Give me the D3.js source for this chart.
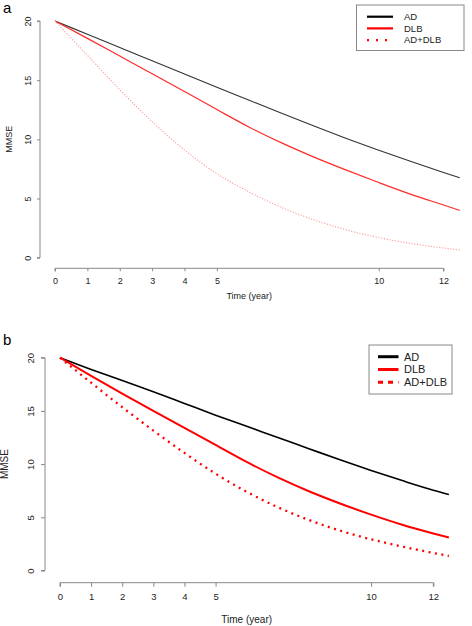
<!DOCTYPE html>
<html><head><meta charset="utf-8">
<script src="https://cdn.jsdelivr.net/npm/d3@7"></script>
<style>body{margin:0;background:#fff}svg{display:block}text{font-family:"Liberation Sans",Arial,sans-serif}</style>
</head><body><svg id="c" width="472" height="626"></svg>
<script>
const timeA = [0,1,2,3,4,5,6,7,8,9,10,11,12,12.5];
const adA     = [20,18.88,17.76,16.65,15.53,14.4,13.3,12.2,11.12,10.08,9.08,8.12,7.2,6.76];
const dlbA    = [20,18.53,17.04,15.55,14.04,12.52,11.03,9.7,8.5,7.4,6.35,5.35,4.45,4.0];
const addlbA  = [20,17.1,14.2,11.5,9.1,7.1,5.55,4.25,3.2,2.35,1.7,1.2,0.82,0.65];

const timeB = [0,1,2,3,4,5,6,7,8,9,10,11,12,12.5];
const adB     = [20,18.9,17.85,16.8,15.7,14.6,13.55,12.5,11.45,10.4,9.4,8.45,7.55,7.15];
const dlbB    = [20,18.3,16.63,15.0,13.4,11.8,10.2,8.75,7.45,6.3,5.25,4.3,3.48,3.1];
const addlbB  = [20,17.65,15.35,13.15,11.05,9.1,7.4,5.95,4.75,3.75,2.93,2.25,1.65,1.37];

const xTicks = [0,1,2,3,4,5,10,12];
const yTicks = [0,5,10,15,20];
const seriesNames = ["AD","DLB","AD+DLB"];
const panelLabels = ["a","b"];

const svg = d3.select("#c");

function panel(o){
  const x = d3.scaleLinear().domain([0,12.5]).range([o.x0,o.x1]);
  const y = d3.scaleLinear().domain([0,20]).range([o.y0,o.y1]);
  const g = svg.append("g");
  g.append("text").attr("x",o.lx).attr("y",o.ly).attr("font-size",15).text(o.label);
  const xa = g.append("g").attr("transform",`translate(0,${o.xaxisY})`)
    .call(d3.axisBottom(x).tickValues(xTicks).tickSize(o.tick).tickPadding(o.xpad).tickFormat(d3.format("d")));
  xa.select(".domain").attr("d",`M${x(0)},${o.tick}V0H${x(12)}V${o.tick}`);
  const ya = g.append("g").attr("transform",`translate(${o.yaxisX},0)`)
    .call(d3.axisLeft(y).tickValues(yTicks).tickSize(o.tick).tickPadding(o.ypad));
  ya.select(".domain").attr("d",`M${-o.tick},${y(0)}H0V${y(20)}H${-o.tick}`);
  ya.selectAll(".tick text").attr("text-anchor","middle").attr("x",0).attr("y",0).attr("dy",0)
    .attr("transform",`translate(${-o.ypad-o.tick},0) rotate(-90)`);
  [xa,ya].forEach(a=>{
    a.selectAll(".domain,.tick line").attr("stroke","#888");
    a.selectAll(".tick text").attr("font-size",o.fs).attr("fill","#222").attr("font-family","Liberation Sans, Arial, sans-serif");
  });
  g.append("text").attr("x",x(6)).attr("y",o.xtitleY).attr("text-anchor","middle").attr("font-size",o.tfs).attr("fill","#222").text("Time (year)");
  g.append("text").attr("transform",`translate(${o.ytitleX},${(y(0)+y(20))/2}) rotate(-90)`).attr("text-anchor","middle").attr("font-size",o.tfs).attr("fill","#222").text("MMSE");
  const line = d3.line().x(d=>x(d[0])).y(d=>y(d[1])).curve(d3.curveMonotoneX);
  o.series.forEach((s,i)=>{
    g.append("path").datum(o.time.map((t,j)=>[t,s.v[j]])).attr("d",line).attr("fill","none")
      .attr("stroke",s.c).attr("stroke-width",s.w).attr("stroke-dasharray",s.dash||null);
  });
  const L = o.leg;
  g.append("rect").attr("x",L.x).attr("y",L.y).attr("width",L.w).attr("height",L.h).attr("fill","#fff").attr("stroke","#888");
  o.series.forEach((s,i)=>{
    const yy = L.y + L.r0 + i*L.dy;
    g.append("line").attr("x1",L.l0).attr("x2",L.l1).attr("y1",yy).attr("y2",yy)
      .attr("stroke",s.lc).attr("stroke-width",L.lw).attr("stroke-dasharray",s.ldash||null);
    g.append("text").attr("x",L.tx).attr("y",yy).attr("dy","0.35em").attr("font-size",L.fs).attr("fill","#222").text(seriesNames[i]);
  });
}

panel({label:panelLabels[0],lx:3,ly:13,x0:55,x1:459.7,y0:257.7,y1:21,xaxisY:268.3,yaxisX:40,tick:3,xpad:6,ypad:6,fs:9,tfs:9,
  xtitleY:299,ytitleX:12,time:timeA,
  series:[{v:adA,c:"#333",w:1.1,lc:"#000"},{v:dlbA,c:"#ff2a2a",w:1.2,lc:"#ff0000"},{v:addlbA,c:"#ff9a9a",w:1.1,dash:"1.2,1.6",lc:"#ff0000",ldash:"2,7"}],
  leg:{x:356.5,y:5,w:107.5,h:45.5,r0:11.7,dy:11.7,l0:367,l1:393,lw:2.2,tx:404,fs:9.5}});

panel({label:panelLabels[1],lx:3,ly:345,x0:60,x1:448.9,y0:570.5,y1:357.7,xaxisY:582.7,yaxisX:45,tick:4,xpad:7,ypad:7,fs:9.5,tfs:10,
  xtitleY:623,ytitleX:8,time:timeB,
  series:[{v:adB,c:"#000",w:1.6,lc:"#000"},{v:dlbB,c:"#ff0000",w:2,lc:"#ff0000"},{v:addlbB,c:"#ff0000",w:2.3,dash:"2,4.5",lc:"#ff0000",ldash:"5,5"}],
  leg:{x:369,y:345,w:83,h:49,r0:11.7,dy:12.8,l0:378,l1:398.5,lw:3,tx:404,fs:11}});
</script></body></html>
